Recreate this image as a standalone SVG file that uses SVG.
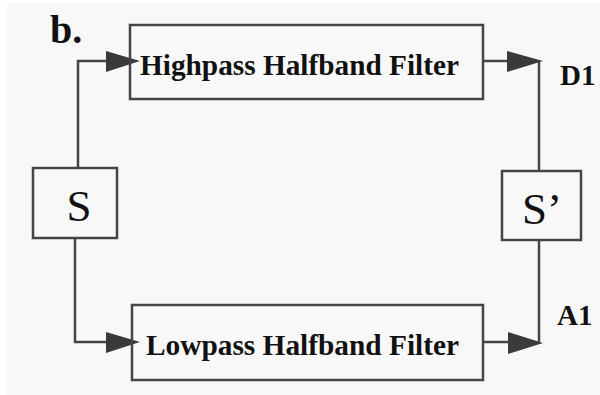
<svg xmlns="http://www.w3.org/2000/svg" width="600" height="395" viewBox="0 0 600 395">
  <style>
    .box { fill: none; stroke: #454545; stroke-width: 2.5; }
    .wire { fill: none; stroke: #454545; stroke-width: 2.5; }
    .head { fill: #3a3a3a; }
    text { font-family: 'Liberation Serif', 'Times New Roman', Times, serif; fill: #111; }
    .lbl { font-weight: bold; }
  </style>
  <rect x="0" y="0" width="600" height="395" fill="#ffffff"/>
  <rect x="7" y="3" width="593" height="392" fill="#f8f8f8"/>

  <text class="lbl" x="50" y="43" font-size="40">b.</text>

  <!-- connectors -->
  <g id="connectors">
    <!-- S to highpass filter -->
    <polyline class="wire" points="78,167 78,61 108,61"/>
    <polygon class="head" points="106,51 140,61 106,72"/>
    <!-- S to lowpass filter -->
    <polyline class="wire" points="75,238 75,342 108,342"/>
    <polygon class="head" points="106,332 140,342 106,353"/>
    <!-- highpass output to S' -->
    <line class="wire" x1="483" y1="61" x2="509" y2="61"/>
    <polygon class="head" points="507,51 543,61 507,72"/>
    <line class="wire" x1="539" y1="62" x2="539" y2="171"/>
    <!-- lowpass output to S' -->
    <line class="wire" x1="483" y1="342" x2="510" y2="342"/>
    <polygon class="head" points="508,332 543,343 508,354"/>
    <line class="wire" x1="539" y1="240" x2="539" y2="343"/>
  </g>

  <g id="highpass">
    <rect class="box" x="130" y="25" width="353" height="74"/>
    <text class="lbl" x="140" y="75" font-size="29" textLength="319" lengthAdjust="spacingAndGlyphs">Highpass Halfband Filter</text>
  </g>

  <g id="lowpass">
    <rect class="box" x="132" y="305" width="351" height="75"/>
    <text class="lbl" x="146" y="355" font-size="29" textLength="313" lengthAdjust="spacingAndGlyphs">Lowpass Halfband Filter</text>
  </g>

  <g id="s">
    <rect class="box" x="33" y="168" width="84" height="70"/>
    <text x="79" y="221" font-size="45" text-anchor="middle">S</text>
  </g>

  <g id="s-prime">
    <rect class="box" x="502" y="171" width="79" height="69"/>
    <text x="542" y="224" font-size="45" text-anchor="middle">S’</text>
  </g>

  <g id="d1">
    <text class="lbl" x="560" y="85" font-size="29">D1</text>
  </g>
  <g id="a1">
    <text class="lbl" x="557" y="325" font-size="29">A1</text>
  </g>
</svg>
